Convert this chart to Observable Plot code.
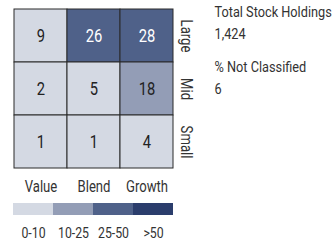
<!DOCTYPE html>
<html><head><meta charset="utf-8">
<script src="https://cdn.jsdelivr.net/npm/d3@7"></script>
<script src="https://cdn.jsdelivr.net/npm/@observablehq/plot@0.6"></script>
<style>
body{margin:0;background:#fff;font-family:Roboto,sans-serif;}
#wrap{position:relative;width:333px;height:245px;}
svg{display:block;}
</style></head>
<body><div id="wrap"><div id="main"></div><div id="leg"></div></div>
<script>
const styles = ["Value","Blend","Growth"];
const sizes = ["Large","Mid","Small"];
const values = [[9,26,28],[2,5,18],[1,1,4]];
const thresholds = [10,25,50];
const colors = ["#d4d9e3","#939db6","#4f6189","#2b3d6c"];
const legendLabels = ["0-10","10-25","25-50",">50"];
const infoLabels = ["Total Stock Holdings","1,424","% Not Classified","6"];

const data = [];
sizes.forEach((s,i)=>styles.forEach((st,j)=>data.push({style:st,size:s,value:values[i][j]})));
const font = 'Roboto,sans-serif';
const ink = "#333";

const info = (i, dy) => Plot.text(infoLabels.slice(i,i+1),{frameAnchor:"top-left",dx:201,dy,text:d=>d,
  lineAnchor:"bottom",textAnchor:"start",fontSize:15,fill:ink});

const main = Plot.plot({
  width:333, height:195,
  marginLeft:13, marginRight:160, marginTop:8, marginBottom:27,
  style:{fontFamily:font,fontSize:"16px",color:ink,background:"transparent",overflow:"visible"},
  x:{domain:styles, padding:0, label:null, axis:null},
  y:{domain:sizes, padding:0, label:null, axis:null},
  color:{type:"threshold", domain:thresholds, range:colors},
  marks:[
    Plot.cell(data,{x:"style",y:"size",fill:"value",stroke:"#2a2a2a",strokeWidth:1}),
    Plot.text(data,{x:"style",y:"size",text:d=>String(d.value),fontSize:18,
      fill:d=>d.value>25?"#fff":"#222"}),
    Plot.axisX({anchor:"bottom",tickSize:0,tickPadding:12,fontSize:16,fill:ink}),
    Plot.text(sizes,{y:d=>d,text:d=>d,frameAnchor:"right",rotate:90,dx:7,
      textAnchor:"middle",lineAnchor:"bottom",fontSize:16,fill:ink}),
    info(0,8), info(1,30), info(2,63), info(3,85)
  ]
});
document.getElementById("main").appendChild(main);

const legData = legendLabels.map((l,i)=>({label:l,c:colors[i]}));
const leg = Plot.plot({
  width:333, height:50,
  marginLeft:12, marginRight:159, marginTop:8, marginBottom:30,
  style:{fontFamily:font,fontSize:"15px",color:ink,background:"transparent",overflow:"visible"},
  x:{domain:legendLabels, padding:0, label:null, axis:null},
  marks:[
    Plot.cell(legData,{x:"label",fill:"c"}),
    Plot.axisX({anchor:"bottom",tickSize:0,tickPadding:12,fontSize:15,fill:ink})
  ]
});
document.getElementById("leg").appendChild(leg);

// condense glyphs (the original uses a condensed face)
document.querySelectorAll("svg text").forEach(t=>{
  const S = infoLabels.includes(t.textContent) ? 0.85 : 0.82;
  const x0 = parseFloat(t.getAttribute("x")||"0");
  const tr = t.getAttribute("transform")||"";
  t.setAttribute("transform", `${tr} translate(${x0},0) scale(${S},1) translate(${-x0},0)`);
});
</script></body></html>
